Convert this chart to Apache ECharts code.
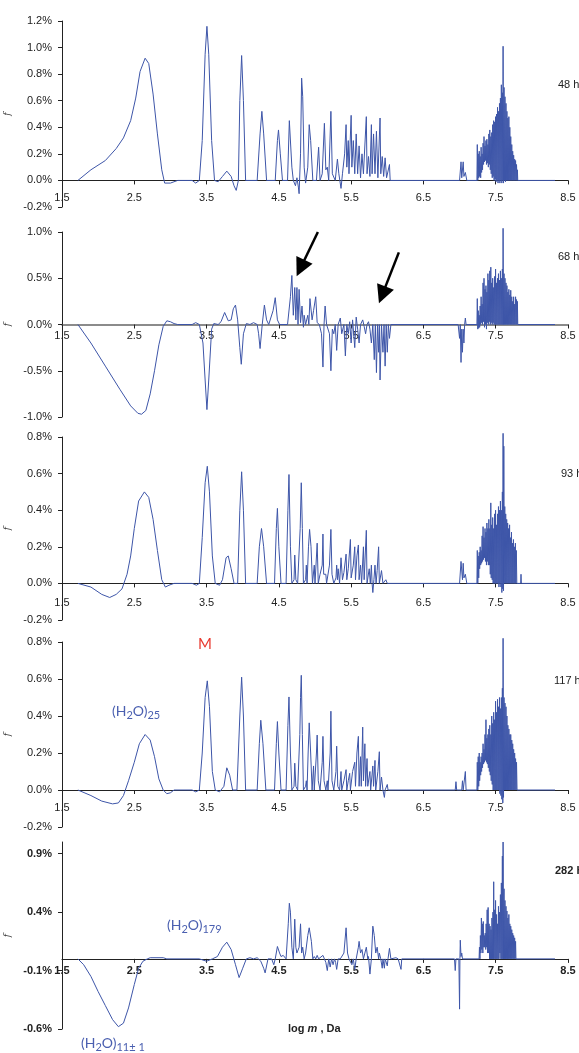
<!DOCTYPE html>
<html>
<head>
<meta charset="utf-8">
<script src="https://cdn.jsdelivr.net/npm/echarts@6/dist/echarts.min.js"></script>
<style>
  html, body { margin: 0; padding: 0; background: #fff; }
  #chart { width: 579px; height: 1053px; }
</style>
</head>
<body>
<div id="chart"></div>
<script>
// log m (Da) vs f (%)
const xTicks = [1.5, 2.5, 3.5, 4.5, 5.5, 6.5, 7.5, 8.5];
const p5Ticks = [-0.6, -0.1, 0.4, 0.9];
const timeLabels = ['48 h', '68 h', '93 h', '117 h', '282 h'];

const p1 = [[1.72,0],[1.9,0.08],[2.1,0.15],[2.25,0.24],[2.35,0.32],[2.45,0.45],[2.52,0.62],[2.58,0.82],[2.65,0.92],[2.7,0.88],[2.76,0.65],[2.82,0.35],[2.88,0.08],[2.92,-0.02],[3.0,-0.02],[3.1,0],[3.3,0],[3.35,-0.02],[3.4,0],[3.44,0.3],[3.48,0.95],[3.505,1.16],[3.53,0.95],[3.57,0.3],[3.61,0],[3.66,-0.01],[3.72,0.03],[3.78,0.07],[3.84,0.03],[3.88,-0.04],[3.91,-0.075],[3.94,0],[3.96,0.6],[3.985,0.94],[4.01,0.6],[4.04,0],[4.2,0],[4.24,0.35],[4.265,0.52],[4.29,0.35],[4.33,0],[4.45,0],[4.48,0.3],[4.495,0.38],[4.52,0.2],[4.55,0],[4.62,0],[4.645,0.45],[4.66,0.46],[4.68,0.1],[4.7,0],[4.73,-0.04],[4.75,0.02],[4.77,-0.05],[4.78,-0.1],[4.8,0.2],[4.815,0.77],[4.83,0.63],[4.85,0.1],[4.87,-0.02],[4.9,0.1],[4.92,0.42],[4.94,0.3],[4.97,0],[5.02,0],[5.05,0.25],[5.07,0],[5.1,0.05],[5.13,0.43],[5.15,0.08],[5.17,0.1],[5.19,0],[5.22,0.52],[5.24,0.05],[5.28,0],[5.31,0.16],[5.33,0.05],[5.36,-0.06],[5.38,0.05],[5.41,0.2],[5.43,0.42],[5.44,0.1],[5.46,0.3],[5.47,0.05],[5.5,0.49],[5.51,0.1],[5.53,0.3],[5.55,0.05],[5.57,0.35],[5.59,0.05],[5.61,0.26],[5.63,0.02],[5.65,0.2],[5.67,0.05],[5.71,0.48],[5.72,0.05],[5.74,0.18],[5.76,0.03],[5.78,0.42],[5.79,0.05],[5.81,0.35],[5.83,0.05],[5.85,0.37],[5.87,0.02],[5.9,0.47],[5.91,0.05],[5.93,0.18],[5.95,0.03],[5.97,0.17],[5.99,0.02],[6.03,0.12],[6.04,0],[7.0,0],[7.02,0.14],[7.03,0.02],[7.05,0.14],[7.06,0.03],[7.08,0.06],[7.1,0]];
const p1Cluster = [[7.24,0],[7.245,0.27],[7.252,0],[7.258,0.2],[7.265,0.02],[7.272,0.22],[7.278,0.03],[7.285,0.18],[7.292,0.02],[7.298,0.25],[7.305,0.06],[7.312,0.2],[7.318,0.08],[7.325,0.28],[7.332,0.12],[7.338,0.33],[7.345,0.14],[7.352,0.26],[7.358,0.15],[7.365,0.3],[7.372,0.12],[7.378,0.31],[7.385,0.13],[7.392,0.27],[7.398,0.1],[7.405,0.35],[7.412,0.12],[7.418,0.38],[7.425,0.08],[7.432,0.33],[7.438,0.05],[7.445,0.36],[7.452,0.02],[7.458,0.42],[7.465,0.03],[7.472,0.45],[7.478,0],[7.485,0.44],[7.492,0.01],[7.498,0.48],[7.505,-0.01],[7.512,0.5],[7.518,0],[7.525,0.55],[7.532,-0.02],[7.538,0.52],[7.545,0],[7.552,0.58],[7.558,-0.02],[7.565,0.62],[7.572,0],[7.578,0.72],[7.585,-0.02],[7.592,0.66],[7.598,0],[7.602,1.01],[7.608,-0.02],[7.615,0.7],[7.622,0],[7.628,0.63],[7.635,-0.01],[7.642,0.58],[7.648,0],[7.655,0.52],[7.662,0],[7.668,0.47],[7.675,0],[7.682,0.48],[7.688,0],[7.695,0.4],[7.702,0],[7.708,0.33],[7.715,0],[7.722,0.27],[7.728,0],[7.735,0.22],[7.742,0],[7.748,0.19],[7.755,0],[7.762,0.16],[7.768,0],[7.775,0.15],[7.782,0],[7.788,0.12],[7.795,0],[7.8,0.08],[7.805,0],[8.32,0]];

const p2 = [[1.72,0],[1.9,-0.2],[2.1,-0.45],[2.3,-0.7],[2.45,-0.88],[2.55,-0.96],[2.6,-0.97],[2.66,-0.93],[2.72,-0.75],[2.78,-0.5],[2.84,-0.22],[2.9,-0.02],[2.95,0.04],[3.0,0.03],[3.05,0.01],[3.1,0],[3.3,0],[3.35,0.02],[3.4,0],[3.45,-0.2],[3.48,-0.6],[3.505,-0.92],[3.53,-0.6],[3.57,-0.05],[3.6,0.01],[3.66,0],[3.7,0.03],[3.75,0.13],[3.8,0.04],[3.84,0.05],[3.87,0.17],[3.9,0.21],[3.93,0.05],[3.96,-0.25],[3.98,-0.43],[4.01,-0.1],[4.05,0.01],[4.1,0],[4.15,0.02],[4.2,0],[4.22,-0.1],[4.24,-0.26],[4.27,0],[4.3,0.21],[4.33,0.05],[4.36,0],[4.42,0.15],[4.45,0.29],[4.48,0.05],[4.51,0],[4.62,0],[4.66,0.3],[4.68,0.53],[4.7,0.1],[4.72,0.4],[4.735,0.05],[4.75,0.4],[4.765,0],[4.78,0.38],[4.8,0.02],[4.82,0.2],[4.84,-0.03],[4.85,0.1],[4.87,0],[4.9,0.1],[4.915,0],[4.93,0.28],[4.96,0.05],[4.98,0.15],[5.01,0.3],[5.03,0.02],[5.06,0],[5.09,-0.1],[5.11,-0.46],[5.125,0],[5.14,0.2],[5.16,0],[5.2,-0.1],[5.22,-0.5],[5.24,-0.05],[5.26,-0.1],[5.28,0],[5.3,-0.28],[5.32,0],[5.35,0.07],[5.37,-0.1],[5.4,0],[5.42,-0.34],[5.44,0],[5.46,-0.1],[5.48,0.03],[5.5,-0.2],[5.52,0.05],[5.55,-0.25],[5.57,0.08],[5.59,-0.05],[5.61,-0.2],[5.63,0],[5.66,0.05],[5.68,-0.02],[5.7,-0.1],[5.72,0],[5.74,0.03],[5.76,-0.05],[5.78,-0.2],[5.8,0],[5.82,-0.38],[5.835,0],[5.85,-0.52],[5.865,0],[5.88,-0.3],[5.89,0],[5.9,-0.6],[5.92,0],[5.94,-0.3],[5.955,0],[5.97,-0.45],[5.985,0],[6.0,-0.3],[6.015,0],[6.03,-0.15],[6.05,0],[6.98,0],[7.0,-0.15],[7.01,0],[7.02,-0.41],[7.03,-0.05],[7.04,-0.3],[7.05,-0.05],[7.06,-0.2],[7.07,0],[7.08,0.07],[7.09,0]];
const p2Cluster = [[7.24,0],[7.245,0.28],[7.252,-0.05],[7.258,0.15],[7.265,-0.04],[7.272,0.1],[7.278,-0.03],[7.285,0.2],[7.292,0],[7.298,0.3],[7.305,0.02],[7.312,0.22],[7.318,0],[7.325,0.45],[7.332,0.03],[7.338,0.5],[7.345,-0.03],[7.352,0.38],[7.358,0],[7.365,0.42],[7.372,-0.05],[7.378,0.35],[7.385,0.02],[7.392,0.55],[7.398,0],[7.405,0.48],[7.412,0.03],[7.418,0.58],[7.425,0],[7.432,0.62],[7.438,0.02],[7.445,0.45],[7.452,0],[7.458,0.5],[7.465,0.02],[7.472,0.4],[7.478,0],[7.485,0.52],[7.492,0],[7.498,0.6],[7.505,0],[7.512,0.45],[7.518,0],[7.525,0.5],[7.532,0],[7.538,0.55],[7.545,0],[7.552,0.48],[7.558,0],[7.565,0.58],[7.572,0],[7.578,0.5],[7.585,0],[7.592,0.6],[7.598,0],[7.602,1.04],[7.608,0],[7.615,0.55],[7.622,0],[7.628,0.5],[7.635,0],[7.642,0.45],[7.648,0],[7.655,0.42],[7.662,0],[7.668,0.35],[7.675,0],[7.682,0.38],[7.688,0],[7.695,0.32],[7.702,0],[7.708,0.37],[7.715,0],[7.722,0.3],[7.728,0],[7.735,0.25],[7.742,0],[7.748,0.3],[7.755,0],[7.762,0.22],[7.768,0],[7.775,0.3],[7.782,0],[7.788,0.27],[7.795,0],[7.8,0.25],[7.805,0],[8.32,0]];
// arrows drawn on the 68 h panel: [tail, tip] in data units
const arrows68 = [[[5.04, 1.0], [4.80, 0.61]], [[6.16, 0.78], [5.93, 0.32]]];

const p3 = [[1.72,0],[1.9,-0.02],[2.05,-0.06],[2.16,-0.077],[2.25,-0.06],[2.33,-0.03],[2.4,0.05],[2.45,0.15],[2.5,0.3],[2.56,0.45],[2.64,0.5],[2.7,0.47],[2.76,0.35],[2.82,0.18],[2.88,0.02],[2.93,-0.02],[2.98,-0.01],[3.05,0],[3.3,0],[3.36,-0.01],[3.4,0],[3.44,0.25],[3.48,0.55],[3.51,0.64],[3.54,0.5],[3.58,0.15],[3.62,0],[3.68,-0.01],[3.72,0.02],[3.77,0.14],[3.8,0.15],[3.84,0.08],[3.88,0],[3.93,0],[3.96,0.4],[3.985,0.61],[4.01,0.4],[4.04,0],[4.2,0],[4.23,0.2],[4.26,0.3],[4.29,0.2],[4.33,0],[4.44,0],[4.465,0.3],[4.48,0.41],[4.5,0.2],[4.53,0],[4.6,0],[4.625,0.4],[4.64,0.595],[4.66,0.2],[4.68,0],[4.71,0.02],[4.72,0.155],[4.735,0.02],[4.76,0],[4.795,0.3],[4.81,0.55],[4.825,0.3],[4.84,0],[4.87,0.02],[4.88,0.1],[4.89,0],[4.91,0.2],[4.925,0.295],[4.945,0.2],[4.965,0],[4.99,0.1],[5.0,0],[5.03,0.22],[5.045,0],[5.07,0.05],[5.1,0.1],[5.11,0.27],[5.12,0.05],[5.15,0.05],[5.16,0],[5.2,0.1],[5.22,0.295],[5.235,0.05],[5.26,0],[5.29,0.03],[5.3,0.1],[5.31,0.02],[5.32,0.08],[5.34,0],[5.36,0.14],[5.38,0.02],[5.4,0.06],[5.43,0.16],[5.44,0.02],[5.46,0.08],[5.49,0.24],[5.5,0.03],[5.53,0.1],[5.55,0.2],[5.56,0.02],[5.58,0.15],[5.6,0.21],[5.61,0.02],[5.63,0.1],[5.645,0],[5.67,0.2],[5.68,0.02],[5.71,0.29],[5.72,0],[5.75,0.08],[5.765,0],[5.78,0.1],[5.79,0],[5.8,-0.05],[5.815,0.02],[5.83,0.1],[5.845,0],[5.86,0.07],[5.88,0.2],[5.89,0],[5.92,0.07],[5.94,0],[5.98,0.02],[6.0,0],[7.0,0],[7.02,0.12],[7.04,0.02],[7.05,0.11],[7.06,0.03],[7.08,0.05],[7.1,0]];
const p3Cluster = [[7.24,0],[7.245,0.18],[7.252,0],[7.258,0.15],[7.265,0.03],[7.272,0.17],[7.278,0.08],[7.285,0.2],[7.292,0.1],[7.298,0.18],[7.305,0.11],[7.312,0.26],[7.318,0.12],[7.325,0.31],[7.332,0.13],[7.338,0.25],[7.345,0.14],[7.352,0.3],[7.358,0.12],[7.365,0.28],[7.372,0.1],[7.378,0.33],[7.385,0.12],[7.392,0.3],[7.398,0.1],[7.405,0.35],[7.412,0.1],[7.418,0.3],[7.425,0.05],[7.432,0.44],[7.438,0.03],[7.445,0.32],[7.452,0.02],[7.458,0.36],[7.465,0],[7.472,0.3],[7.478,0],[7.485,0.38],[7.492,0],[7.498,0.4],[7.505,0],[7.512,0.32],[7.518,0],[7.525,0.38],[7.532,0],[7.538,0.42],[7.545,-0.02],[7.552,0.4],[7.558,0],[7.565,0.45],[7.572,-0.02],[7.578,0.4],[7.585,-0.05],[7.592,0.5],[7.598,-0.03],[7.602,0.82],[7.608,-0.04],[7.612,0.75],[7.618,0],[7.625,0.42],[7.632,0],[7.638,0.38],[7.645,0],[7.652,0.35],[7.658,0],[7.665,0.33],[7.672,0],[7.678,0.3],[7.685,0],[7.692,0.32],[7.698,0],[7.705,0.25],[7.712,0],[7.718,0.28],[7.725,0],[7.732,0.22],[7.738,0],[7.745,0.24],[7.752,0],[7.758,0.2],[7.765,0],[7.772,0.22],[7.778,0],[7.785,0.18],[7.792,0],[7.845,0],[7.85,0.05],[7.855,0],[8.32,0]];

const p4 = [[1.72,0],[1.9,-0.03],[2.05,-0.06],[2.2,-0.075],[2.28,-0.07],[2.35,-0.03],[2.42,0.05],[2.5,0.15],[2.57,0.25],[2.65,0.3],[2.72,0.27],[2.78,0.18],[2.84,0.06],[2.9,0],[2.95,-0.02],[3.0,-0.015],[3.05,0],[3.3,0],[3.35,-0.01],[3.4,0],[3.44,0.2],[3.48,0.5],[3.51,0.59],[3.54,0.45],[3.58,0.1],[3.62,0],[3.68,-0.01],[3.74,0.02],[3.78,0.12],[3.82,0.08],[3.86,0],[3.92,0],[3.96,0.4],[3.985,0.61],[4.01,0.4],[4.04,0],[4.2,0],[4.23,0.25],[4.25,0.377],[4.28,0.25],[4.32,0],[4.44,0],[4.465,0.25],[4.48,0.37],[4.5,0.2],[4.53,0],[4.6,0],[4.625,0.35],[4.64,0.503],[4.66,0.2],[4.68,0],[4.71,0.02],[4.72,0.145],[4.735,0.02],[4.76,0],[4.79,0.3],[4.8,0.5],[4.81,0.62],[4.825,0.3],[4.84,0],[4.87,0.02],[4.88,0.05],[4.89,0],[4.905,0.2],[4.92,0.363],[4.94,0.2],[4.96,0],[4.98,0.13],[4.99,0],[5.02,0.2],[5.03,0.297],[5.045,0.05],[5.07,0],[5.1,0.15],[5.11,0.29],[5.125,0.05],[5.15,0],[5.17,0.05],[5.18,0],[5.21,0.2],[5.22,0.426],[5.235,0.05],[5.26,0],[5.29,0.1],[5.3,0.237],[5.315,0.02],[5.34,0],[5.36,0.1],[5.37,0],[5.4,0.05],[5.43,0.11],[5.44,0],[5.46,0.05],[5.48,0.09],[5.49,0],[5.52,0.1],[5.55,0.15],[5.56,0.02],[5.58,0.2],[5.6,0.29],[5.61,0.02],[5.63,0.18],[5.64,0.02],[5.66,0.34],[5.67,0.05],[5.69,0.25],[5.7,0.02],[5.72,0.17],[5.73,0.02],[5.76,0.1],[5.77,0],[5.8,0.13],[5.81,0.02],[5.83,0.16],[5.84,0],[5.87,0.1],[5.89,0.207],[5.9,0],[5.92,0.07],[5.94,0],[5.96,-0.04],[5.97,0],[6.0,0.03],[6.01,0],[6.94,0],[6.95,0.045],[6.96,0],[7.03,0],[7.04,0.05],[7.05,0],[7.07,0],[7.08,0.1],[7.09,0]];
const p4Cluster = [[7.24,0],[7.245,0.15],[7.252,0],[7.258,0.18],[7.265,0.02],[7.272,0.2],[7.278,0.05],[7.285,0.15],[7.292,0.08],[7.298,0.18],[7.305,0.1],[7.312,0.2],[7.318,0.12],[7.325,0.25],[7.332,0.14],[7.338,0.22],[7.345,0.15],[7.352,0.3],[7.358,0.16],[7.365,0.38],[7.372,0.15],[7.378,0.28],[7.385,0.14],[7.392,0.3],[7.398,0.12],[7.405,0.33],[7.412,0.1],[7.418,0.35],[7.425,0.08],[7.432,0.3],[7.438,0.05],[7.445,0.4],[7.452,0.03],[7.458,0.36],[7.465,0],[7.472,0.42],[7.478,0],[7.485,0.38],[7.492,0],[7.498,0.48],[7.505,0],[7.512,0.42],[7.518,0],[7.525,0.49],[7.532,0],[7.538,0.45],[7.545,0],[7.552,0.5],[7.558,-0.02],[7.565,0.44],[7.572,-0.03],[7.578,0.5],[7.585,-0.05],[7.592,0.55],[7.598,-0.07],[7.602,0.82],[7.608,-0.04],[7.615,0.5],[7.622,0],[7.628,0.47],[7.635,0],[7.642,0.45],[7.648,0],[7.655,0.4],[7.662,0],[7.668,0.35],[7.675,0],[7.682,0.33],[7.688,0],[7.695,0.3],[7.702,0],[7.708,0.3],[7.715,0],[7.722,0.27],[7.728,0],[7.735,0.25],[7.742,0],[7.748,0.22],[7.755,0],[7.762,0.2],[7.768,0],[7.775,0.17],[7.782,0],[7.788,0.15],[7.795,0],[8.32,0]];

const p5 = [[1.72,0],[1.8,-0.05],[1.9,-0.15],[2.0,-0.28],[2.1,-0.4],[2.2,-0.52],[2.28,-0.58],[2.35,-0.55],[2.42,-0.42],[2.5,-0.22],[2.56,-0.08],[2.62,-0.02],[2.68,0],[2.72,0.01],[2.9,0.01],[2.95,0],[3.4,0],[3.5,-0.02],[3.58,0],[3.65,0.02],[3.72,0.1],[3.78,0.143],[3.84,0.08],[3.9,-0.05],[3.95,-0.16],[4.0,-0.08],[4.05,0],[4.1,0.01],[4.15,0],[4.2,0.01],[4.25,-0.02],[4.29,-0.08],[4.31,-0.12],[4.35,0],[4.4,0],[4.43,-0.05],[4.45,0],[4.48,0.106],[4.51,0.05],[4.53,0.02],[4.56,0.03],[4.6,0],[4.63,0.3],[4.645,0.476],[4.66,0.4],[4.68,0.1],[4.7,0],[4.72,0.34],[4.735,0.1],[4.75,0.05],[4.78,0.1],[4.8,0.3],[4.815,0.05],[4.83,0.1],[4.85,0],[4.87,0.05],[4.9,0.2],[4.92,0.266],[4.95,0.15],[4.97,0],[4.99,0.02],[5.01,0],[5.03,0.03],[5.05,0],[5.11,0.03],[5.13,0],[5.15,-0.03],[5.17,-0.1],[5.19,0],[5.21,-0.07],[5.23,0],[5.25,-0.05],[5.27,0],[5.285,-0.03],[5.3,-0.09],[5.32,0],[5.35,0],[5.4,0.05],[5.43,0.266],[5.45,0.05],[5.47,0],[5.51,-0.05],[5.53,0],[5.55,-0.09],[5.57,0],[5.6,0.1],[5.61,0.15],[5.63,0.05],[5.65,0.08],[5.67,0],[5.71,0.1],[5.73,0],[5.74,0.02],[5.76,-0.13],[5.78,0],[5.8,0.28],[5.82,0.2],[5.84,0.05],[5.86,0.1],[5.88,0],[5.89,0.05],[5.91,0],[5.93,-0.08],[5.94,0],[5.96,-0.08],[5.97,0],[6.0,-0.06],[6.01,0],[6.03,0.09],[6.05,0],[6.12,0.01],[6.15,0],[6.19,-0.09],[6.2,0],[6.93,0],[6.94,-0.1],[6.95,0],[6.99,0],[7.0,-0.43],[7.005,0],[7.01,0.16],[7.02,0.02],[7.03,0.05],[7.04,0]];
const p5Cluster = [[7.27,0],[7.275,0.1],[7.282,0],[7.288,0.2],[7.295,0.05],[7.302,0.35],[7.308,0.08],[7.315,0.3],[7.322,0.05],[7.328,0.32],[7.335,0.1],[7.342,0.2],[7.348,0.1],[7.355,0.22],[7.362,0.08],[7.368,0.3],[7.375,0.1],[7.382,0.42],[7.388,0.05],[7.395,0.44],[7.402,0.05],[7.408,0.3],[7.415,0],[7.422,0.28],[7.428,0],[7.435,0.25],[7.442,0],[7.448,0.35],[7.455,0],[7.462,0.4],[7.468,0],[7.472,0.66],[7.478,0],[7.485,0.42],[7.492,0],[7.498,0.5],[7.505,0],[7.512,0.38],[7.518,0],[7.525,0.3],[7.532,0],[7.538,0.45],[7.545,0],[7.552,0.4],[7.558,0.05],[7.565,0.55],[7.572,0],[7.578,0.65],[7.585,0],[7.592,0.88],[7.598,0],[7.602,1.0],[7.608,0],[7.615,0.6],[7.622,0],[7.628,0.5],[7.635,0],[7.642,0.45],[7.648,0],[7.655,0.41],[7.662,0],[7.668,0.35],[7.675,0],[7.682,0.38],[7.688,0],[7.695,0.3],[7.702,0],[7.708,0.28],[7.715,0],[7.722,0.25],[7.728,0],[7.735,0.22],[7.742,0],[7.748,0.2],[7.755,0],[7.762,0.18],[7.768,0],[7.775,0.15],[7.78,0],[8.32,0]];

const lineColor = '#3D55A8';
const font = "'Liberation Sans', Arial, sans-serif";

// panel layout: grid top/height, y range, y interval, x-label margin
const panels = [
  { top: 21,  height: 186, min: -0.2, max: 1.2, interval: 0.2, margin: 12, data: p1.concat(p1Cluster) },
  { top: 232, height: 185, min: -1.0, max: 1.0, interval: 0.5, margin: 6,  data: p2.concat(p2Cluster) },
  { top: 437, height: 183, min: -0.2, max: 0.8, interval: 0.2, margin: 14, data: p3.concat(p3Cluster) },
  { top: 642, height: 185, min: -0.2, max: 0.8, interval: 0.2, margin: 12, data: p4.concat(p4Cluster) },
  { top: 842, height: 187, min: -0.6, max: 1.0, interval: null, margin: 7, data: p5.concat(p5Cluster), bold: true }
];

const chart = echarts.init(document.getElementById('chart'));

const grids = [], xAxes = [], yAxes = [], series = [];
panels.forEach((p, i) => {
  const weight = p.bold ? 'bold' : 'normal';
  // x axis sits on f = 0: shift it up from the grid bottom
  const zeroShift = -p.height * (0 - p.min) / (p.max - p.min);
  grids.push({ left: 62, right: 11, top: p.top, height: p.height, outerBoundsMode: 'none' });
  xAxes.push({
    type: 'value', gridIndex: i, min: 1.5, max: 8.5, position: 'bottom', offset: zeroShift,
    axisLine: { onZero: false, lineStyle: { color: i === 1 ? '#666' : '#222', width: i === 1 ? 1.5 : 1 } },
    axisTick: { show: true, length: 4, customValues: xTicks, lineStyle: { color: '#222' } },
    axisLabel: { customValues: xTicks, margin: p.margin, color: '#222', fontSize: 11, fontFamily: font, fontWeight: weight,
      formatter: v => v.toFixed(1) },
    splitLine: { show: false }
  });
  const y = {
    type: 'value', gridIndex: i, min: p.min, max: p.max,
    name: 'f', nameLocation: 'middle', nameGap: 45, nameRotate: 90,
    nameTextStyle: { fontStyle: 'italic', fontSize: 9, fontFamily: 'DejaVu Serif', color: '#333' },
    axisLine: { show: true, onZero: false, lineStyle: { color: '#222' } },
    axisTick: { show: true, length: 4, lineStyle: { color: '#222' } },
    axisLabel: { margin: 10, color: '#222', fontSize: 11, fontFamily: font, fontWeight: weight,
      formatter: v => v.toFixed(1) + '%' },
    splitLine: { show: false }
  };
  if (p.interval) {
    y.interval = p.interval;
  } else {
    y.axisLabel.customValues = p5Ticks;
    y.axisTick.customValues = p5Ticks;
  }
  yAxes.push(y);
  const s = {
    type: 'line', xAxisIndex: i, yAxisIndex: i, data: p.data,
    showSymbol: false, symbol: 'none', clip: false,
    lineStyle: { color: lineColor, width: 1 },
    emphasis: { disabled: true }, silent: true
  };
  if (i === 1) {
    s.markLine = {
      silent: true, symbol: ['none', 'triangle'], symbolSize: 18,
      label: { show: false },
      lineStyle: { color: '#000', width: 2.5, type: 'solid' },
      itemStyle: { color: '#000' },
      emphasis: { disabled: true },
      data: arrows68.map(a => [{ coord: a[0] }, { coord: a[1] }])
    };
  }
  series.push(s);
});

const sideLabelY = [86, 258, 475, 682, 872];
const sideLabelX = [558, 558, 561, 554, 555];
const graphics = timeLabels.map((t, i) => ({
  type: 'text', left: sideLabelX[i], top: sideLabelY[i] - 7,
  style: { text: t, fill: '#222', font: (i === 4 ? 'bold ' : '') + '11px ' + font }
}));

// subscripts: normal text hangs from the top of a 17px line, small digits sit on its bottom
const noteFamily = "Lato, 'Noto Sans', sans-serif";
const noteRich = {
  n: { fontSize: 14, lineHeight: 17, fontFamily: noteFamily, fill: '#4A5FB0', verticalAlign: 'top' },
  s: { fontSize: 11, fontFamily: noteFamily, fill: '#4A5FB0', verticalAlign: 'bottom' }
};
graphics.push(
  { type: 'text', left: 198, top: 637, style: { text: 'M', fill: '#E8392F', font: '15px ' + noteFamily } },
  { type: 'text', left: 112, top: 704, style: { text: '{n|(H}{s|2}{n|O)}{s|25}', rich: noteRich } },
  { type: 'text', left: 167, top: 918, style: { text: '{n|(H}{s|2}{n|O)}{s|179}', rich: noteRich } },
  { type: 'text', left: 81, top: 1036, style: { text: '{n|(H}{s|2}{n|O)}{s|11± 1}', rich: noteRich } },
  { type: 'text', left: 288, top: 1023, style: {
      text: '{b|log }{i|m}{b| , Da}',
      rich: {
        b: { font: 'bold 11px ' + font, fill: '#222' },
        i: { font: 'italic bold 11px ' + font, fill: '#222' }
      }
  } }
);

chart.setOption({
  animation: false,
  grid: grids,
  xAxis: xAxes,
  yAxis: yAxes,
  series: series,
  graphic: graphics
});
</script>
</body>
</html>
